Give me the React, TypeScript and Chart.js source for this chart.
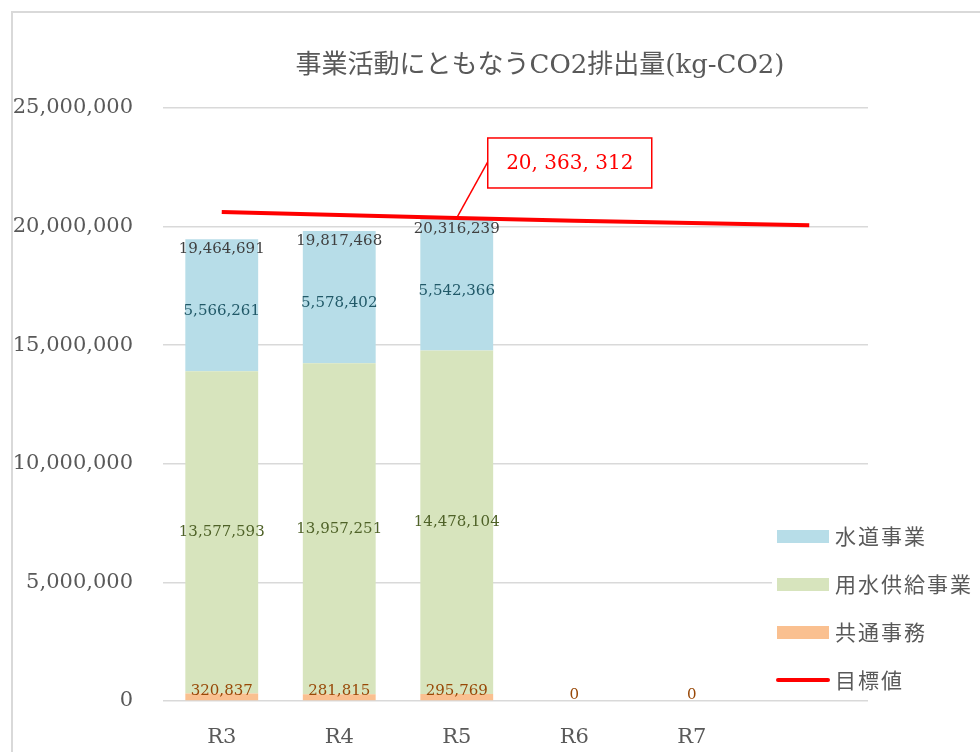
import React, { useEffect, useRef } from "react";
import { Chart, registerables } from "chart.js";

Chart.register(...registerables);

const categories = ["R3", "R4", "R5", "R6", "R7", ""];
const commonOffice = [320837, 281815, 295769, 0, 0, null];
const bulkSupply = [13577593, 13957251, 14478104, null, null, null];
const waterSupply = [5566261, 5578402, 5542366, null, null, null];
const targetValues = [20620000, 20490000, 20363312, 20250000, 20150000, 20060000];
const totals = [19464691, 19817468, 20316239];
const calloutIndex = 2;
const titleText = "事業活動にともなうCO2排出量(kg-CO2)";

const SERIF = '"DejaVu Serif", "Noto Sans CJK JP", serif';
const CJK = '"Noto Sans CJK JP", sans-serif';
const fmt = (v: number) => v.toLocaleString("en-US");

const labelColors = ["#984807", "#4F6228", "#215968"];

const overlay = {
  id: "overlay",
  afterDatasetsDraw(chart: any) {
    const ctx = chart.ctx;
    const y = chart.scales.y;
    ctx.save();
    ctx.textAlign = "center";
    ctx.textBaseline = "middle";
    ctx.font = `15px ${SERIF}`;
    for (let d = 0; d < 3; d++) {
      const meta = chart.getDatasetMeta(d);
      const ds = chart.data.datasets[d];
      meta.data.forEach((el: any, i: number) => {
        const v = ds.data[i];
        if (v === null || v === undefined) return;
        ctx.fillStyle = labelColors[d];
        let cy = (el.y + el.base) / 2;
        if (d === 0) cy -= 6;
        if (d === 2) cy += 6;
        ctx.fillText(fmt(v), el.x, cy);
      });
    }
    const meta0 = chart.getDatasetMeta(0);
    ctx.fillStyle = "#404040";
    totals.forEach((t, i) => {
      const el = meta0.data[i];
      ctx.fillText(fmt(t), el.x, y.getPixelForValue(t) + 10);
    });
    const lm = chart.getDatasetMeta(3);
    const p = lm.data[calloutIndex];
    const bx = p.x + 31;
    const bw = 164;
    const bh = 50;
    const by = p.y - 80;
    ctx.strokeStyle = "#FF0000";
    ctx.lineWidth = 1.5;
    ctx.beginPath();
    ctx.moveTo(p.x, p.y);
    ctx.lineTo(bx, by + bh / 2 - 1);
    ctx.stroke();
    ctx.fillStyle = "#FFFFFF";
    ctx.fillRect(bx, by, bw, bh);
    ctx.strokeRect(bx, by, bw, bh);
    ctx.fillStyle = "#FF0000";
    ctx.font = `20px ${SERIF}`;
    const v = targetValues[calloutIndex];
    ctx.fillText(fmt(v).split(",").join(", "), bx + bw / 2, by + bh / 2 + 1);
    ctx.restore();
  },
  afterDraw(chart: any) {
    const ctx = chart.ctx;
    ctx.save();
    ctx.strokeStyle = "#D9D9D9";
    ctx.lineWidth = 2;
    ctx.beginPath();
    ctx.moveTo(12, chart.height);
    ctx.lineTo(12, 12);
    ctx.lineTo(chart.width, 12);
    ctx.stroke();
    ctx.fillStyle = "#595959";
    ctx.font = `26px ${SERIF}`;
    ctx.textAlign = "center";
    ctx.textBaseline = "middle";
    ctx.fillText(titleText, 540, 66);
    const order = [2, 1, 0, 3];
    const x0 = 777;
    const y0 = 536;
    const gap = 48;
    ctx.fillStyle = "#FFFFFF";
    ctx.fillRect(772, y0 - 22, chart.width - 772, gap * 3 + 40);
    ctx.textAlign = "left";
    ctx.font = `21px ${CJK}`;
    (ctx as any).letterSpacing = "2px";
    order.forEach((d, k) => {
      const ds = chart.data.datasets[d];
      const cy = y0 + k * gap;
      if (d === 3) {
        ctx.strokeStyle = ds.borderColor;
        ctx.lineWidth = 4;
        ctx.lineCap = "round";
        ctx.beginPath();
        ctx.moveTo(x0 + 1, cy);
        ctx.lineTo(x0 + 51, cy);
        ctx.stroke();
      } else {
        ctx.fillStyle = ds.backgroundColor;
        ctx.fillRect(x0, cy - 6, 52, 13);
      }
      ctx.fillStyle = "#595959";
      ctx.fillText(ds.label, x0 + 58, cy);
    });
    ctx.restore();
  },
};

export default function App() {
  const ref = useRef<HTMLCanvasElement>(null);
  useEffect(() => {
    if (!ref.current) return;
    const chart = new Chart(ref.current, {
      type: "bar",
      data: {
        labels: categories,
        datasets: [
          { label: "共通事務", data: commonOffice, backgroundColor: "#FAC090", stack: "s", order: 1 } as any,
          { label: "用水供給事業", data: bulkSupply, backgroundColor: "#D7E4BD", stack: "s", order: 1 },
          { label: "水道事業", data: waterSupply, backgroundColor: "#B7DDE8", stack: "s", order: 1 },
          {
            type: "line",
            label: "目標値",
            data: targetValues,
            borderColor: "#FF0000",
            backgroundColor: "#FF0000",
            borderWidth: 4,
            pointRadius: 0,
            tension: 0,
            order: 0,
          } as any,
        ],
      },
      plugins: [overlay],
      options: {
        animation: false,
        responsive: false,
        maintainAspectRatio: false,
        layout: { padding: { left: 0, right: 112, top: 108, bottom: 0 } },
        datasets: { bar: { barPercentage: 0.62, categoryPercentage: 1 } },
        plugins: {
          legend: { display: false },
          title: { display: false },
          tooltip: { enabled: false },
        },
        scales: {
          x: {
            stacked: true,
            grid: { display: false },
            border: { display: false },
            ticks: { color: "#595959", font: { family: SERIF, size: 21 }, padding: 16 },
            afterFit: (s: any) => {
              s.height = 51;
            },
          },
          y: {
            stacked: true,
            min: 0,
            max: 25000000,
            grid: { color: "#D9D9D9", lineWidth: 1.5, drawTicks: false },
            border: { display: false },
            ticks: {
              stepSize: 5000000,
              color: "#595959",
              font: { family: SERIF, size: 21 },
              padding: 30,
              callback: (v: any) => fmt(Number(v)),
            },
            afterFit: (s: any) => {
              s.width = 163;
            },
          },
        },
      },
    });
    return () => chart.destroy();
  }, []);
  return (
    <div style={{ position: "absolute", left: 0, top: 0, width: 980, height: 752, background: "#fff" }}>
      <canvas ref={ref} width={980} height={752} style={{ display: "block" }} />
    </div>
  );
}
